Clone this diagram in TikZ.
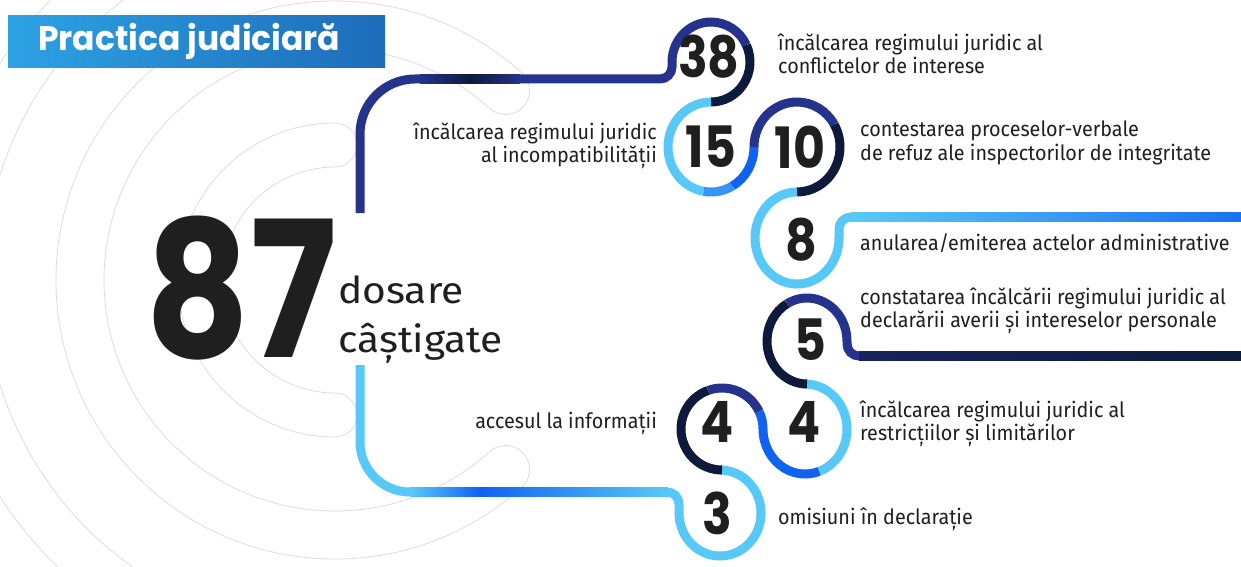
\documentclass[tikz,border=0pt]{standalone}
\usepackage{fontspec}
\setmainfont{Fira Sans}
\newfontfamily\popfont{Poppins}
\usetikzlibrary{positioning}

\definecolor{navy}{HTML}{25338C}
\definecolor{deepnavy}{HTML}{0E1A3B}
\definecolor{brightblue}{HTML}{1062F0}
\definecolor{skyblue}{HTML}{58C9F7}
\definecolor{inkgrey}{HTML}{1F1F1F}
\definecolor{arcgrey}{HTML}{DCDCE6}
\definecolor{titleleft}{HTML}{2DA2E4}
\definecolor{titleright}{HTML}{1E6CB9}

\tikzset{track/.style={line width=9pt, line cap=butt}}
\tikzset{bgarc/.style={draw=arcgrey, line width=0.8pt}}
\tikzset{num/.style={font=\popfont\bfseries\fontsize{57}{57}\selectfont, text=inkgrey, inner sep=0pt, xscale=0.86}}
\tikzset{note/.style={font=\fontsize{21}{23.5}\selectfont, text=inkgrey, inner sep=0pt, align=left, xscale=0.94}}
\tikzset{noter/.style={note, align=right}}
\tikzset{bigtxt/.style={font=\fontsize{37}{37}\selectfont, text=inkgrey, anchor=base west, inner sep=0pt, xscale=1.1}}

% one coloured piece of a ring: centre, radii, start, end, colour
\newcommand{\ringseg}[5]{\draw[track,#5] (#1) ++(#3:#2) arc (#3:#4:#2);}

\begin{document}
\begin{tikzpicture}[x=1pt,y=-1pt]
\useasboundingbox (0,0) rectangle (1241,567);
\fill[white] (0,0) rectangle (1241,567);

% background arcs
\begin{scope}
  \clip (0,0) rectangle (1241,567);
  \foreach \rm/\w/\a/\b in {135/22/90/270, 255/24/48/312, 375/24/70/290}
    \draw[bgarc, shift={(335,280)}] (\a:{\rm+\w}) arc[start angle=\a, end angle=\b, radius=\rm+\w]
      arc[start angle=\b, end angle=\b+180, radius=\w]
      arc[start angle=\b, end angle=\a, radius=\rm-\w]
      arc[start angle=\a+180, end angle=\a+360, radius=\w] -- cycle;
\end{scope}

% title
\shade[left color=titleleft, right color=titleright] (8,16) rectangle (385,68);
\node[font=\popfont\bfseries\fontsize{34}{34}\selectfont, text=white, anchor=west, inner sep=0pt, xscale=0.97] (title) at (38,41) {Practica judiciară};

% upper track
\draw[track, navy] (360,213) -- (360,134) arc[start angle=180, end angle=270, radius=55]
  -- (660,79) arc[start angle=90, end angle=0, radius=12] -- (672,62);
\shade[left color=navy, right color=navy, middle color=deepnavy] (420,74.5) rectangle (520,83.5);
\ringseg{711,62}{39 and 40}{180}{335}{navy}
\ringseg{711,62}{39 and 40}{335}{450}{deepnavy}
\ringseg{711,147}{43 and 45}{270}{100}{skyblue}
\ringseg{711,147}{43 and 45}{100}{60}{skyblue!50!brightblue}
\ringseg{711,147}{43 and 45}{60}{0}{brightblue}
\ringseg{797,147}{43 and 45}{180}{330}{navy}
\ringseg{797,147}{43 and 45}{330}{450}{deepnavy}
\ringseg{797,238}{42 and 46}{270}{0}{skyblue}
\draw[track, skyblue] (839,238) -- (839,229) arc[start angle=180, end angle=270, radius=12] -- (852,217);
\shade[left color=skyblue, right color=brightblue!85!skyblue] (851,212.5) rectangle (1241,221.5);

% lower track
\draw[track, skyblue] (360,365) -- (360,442) arc[start angle=180, end angle=90, radius=50] -- (411,492);
\shade[left color=skyblue, right color=brightblue] (410,487.5) rectangle (480,496.5);
\shade[left color=brightblue, right color=skyblue] (480,487.5) rectangle (668,496.5);
\draw[track, skyblue] (667,492) arc[start angle=270, end angle=360, radius=12] -- (679,513);
\ringseg{720,513}{41 and 43}{180}{-90}{skyblue}
\ringseg{722,429}{41 and 41}{90}{250}{deepnavy}
\ringseg{722,429}{41 and 41}{250}{335}{navy}
\ringseg{722,429}{41 and 41}{335}{360}{brightblue}
\ringseg{805,429}{42 and 45}{180}{70}{brightblue}
\ringseg{805,429}{42 and 45}{70}{-90}{skyblue}
\ringseg{807,341}{40 and 43}{90}{240}{deepnavy}
\ringseg{807,341}{40 and 43}{240}{360}{navy}
\draw[track, navy] (847,341) -- (847,344) arc[start angle=180, end angle=90, radius=12] -- (860,356);
\shade[left color=deepnavy!60!navy, middle color=navy!85!brightblue, right color=deepnavy] (859,351.5) rectangle (1241,360.5);

% total
\node[font=\popfont\bfseries\fontsize{190}{190}\selectfont, text=inkgrey, inner sep=0pt, xscale=0.85] (n87) at (241,288) {87};
\node[bigtxt] (dos) at (338,303) {dosare};
\node[bigtxt] (cas) at (338,352) {câștigate};

% ring numbers
\node[num] (n38) at (709,57) {38};
\node[num] (n15) at (711,147) {15};
\node[num] (n10) at (800,147) {10};
\node[num] (n8) at (801,240) {8};
\node[num] (n5) at (810,340) {5};
\node[num] (n4r) at (804,422) {4};
\node[num] (n4l) at (717,422) {4};
\node[num] (n3) at (717,513) {3};

% labels
\node[note, anchor=west] (t38) at (778,54) {încălcarea regimului juridic al\\conflictelor de interese};
\node[noter, anchor=east] (t15) at (657,146) {încălcarea regimului juridic\\al incompatibilității};
\node[note, anchor=west] (t10) at (860,143) {contestarea proceselor-verbale\\de refuz ale inspectorilor de integritate};
\node[note, anchor=west] (t8) at (860,243) {anularea/emiterea actelor administrative};
\node[note, anchor=west] (t5) at (860,311) {constatarea încălcării regimului juridic al\\declarării averii și intereselor personale};
\node[note, anchor=west] (t4r) at (860,424) {încălcarea regimului juridic al\\restricțiilor și limitărilor};
\node[note, anchor=east] (t4l) at (657,423) {accesul la informații};
\node[note, anchor=west] (t3) at (778,519) {omisiuni în declarație};
\end{tikzpicture}
\end{document}
